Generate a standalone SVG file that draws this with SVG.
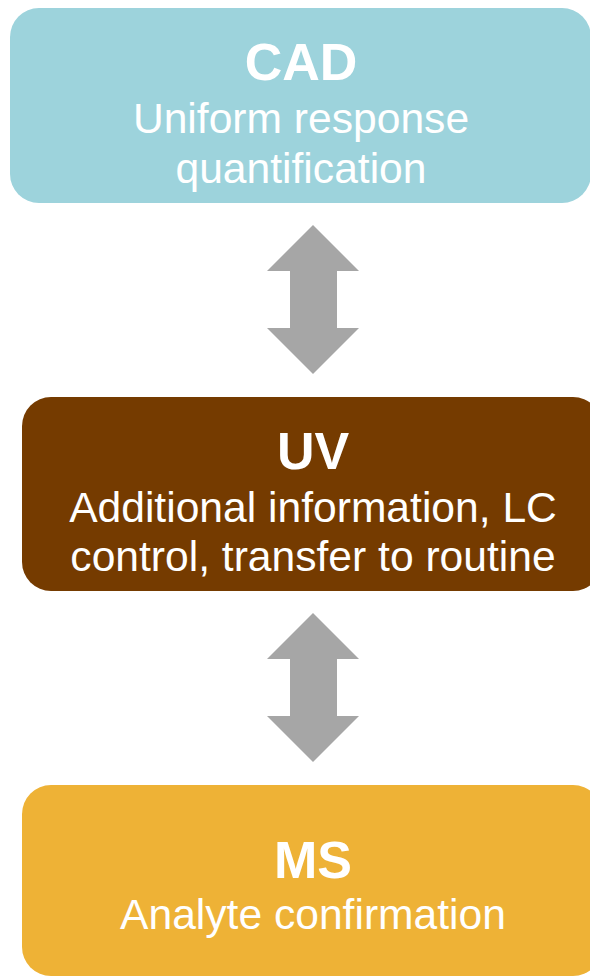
<svg xmlns="http://www.w3.org/2000/svg" width="590" height="976" viewBox="0 0 590 976">
<style>
.t{font-family:"Liberation Sans",Arial,sans-serif;fill:#ffffff;text-anchor:middle}
.h{font-weight:bold;font-size:52px}
.s{font-size:42.6px}
.arrow{fill:#a6a6a6}
</style>
<rect width="590" height="976" fill="#ffffff"/>
<g id="cad">
<rect x="10" y="8" width="581" height="195" rx="29" fill="#9dd3dc"/>
<text class="t h" x="301" y="80">CAD</text>
<text class="t s" x="301" y="133">Uniform response</text>
<text class="t s" x="301" y="183">quantification</text>
</g>
<g id="uv">
<rect x="22" y="397" width="580" height="194" rx="29" fill="#753b00"/>
<text class="t h" x="313" y="469">UV</text>
<text class="t s" x="313" y="522">Additional information, LC</text>
<text class="t s" x="313" y="571">control, transfer to routine</text>
</g>
<g id="ms">
<rect x="22" y="785" width="580" height="191" rx="29" fill="#eeb236"/>
<text class="t h" x="313" y="878">MS</text>
<text class="t s" x="313" y="929">Analyte confirmation</text>
</g>
<g id="connectors">
<polygon class="arrow" points="313,225 359,271 337,271 337,328 359,328 313,374 267,328 290,328 290,271 267,271"/>
<polygon class="arrow" points="313,613 359,659 337,659 337,716 359,716 313,762 267,716 290,716 290,659 267,659"/>
</g>
</svg>
